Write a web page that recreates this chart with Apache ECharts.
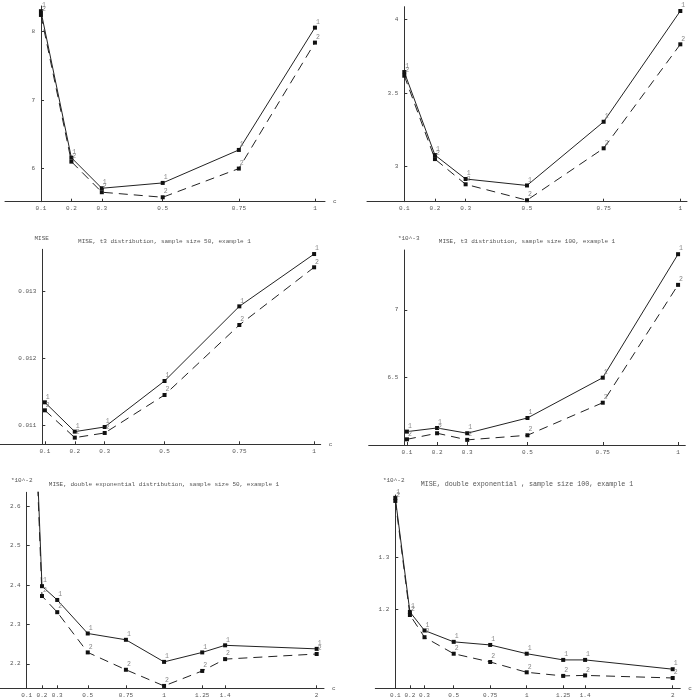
<!DOCTYPE html>
<html>
<head>
<meta charset="utf-8">
<script src="https://cdn.jsdelivr.net/npm/echarts@6/dist/echarts.min.js"></script>
<style>
  html, body { margin: 0; padding: 0; background: #fff; }
  #chart { width: 693px; height: 698px; }
</style>
</head>
<body>
<div id="chart"></div>
<script>
// c values
const cNormal = [0.1, 0.2, 0.3, 0.5, 0.75, 1]
const cDexp = [0.1, 0.2, 0.3, 0.5, 0.75, 1, 1.25, 1.4, 2]

// normal distribution
const normal50Est1 = [8.30, 6.155, 5.707, 5.785, 6.268, 8.059]
const normal50Est2 = [8.245, 6.097, 5.649, 5.575, 5.995, 7.84]
const normal100Est1 = [3.642, 3.079, 2.917, 2.873, 3.305, 4.056]
const normal100Est2 = [3.617, 3.052, 2.881, 2.773, 3.125, 3.830]

// t3 distribution (size 100 in units of 10^-3)
const t350Est1 = [0.01134, 0.01090, 0.01097, 0.01166, 0.01278, 0.013565]
const t350Est2 = [0.01122, 0.01081, 0.01088, 0.01145, 0.01250, 0.013366]
const t3100Est1 = [6.099, 6.126, 6.087, 6.200, 6.498, 7.412]
const t3100Est2 = [6.042, 6.087, 6.038, 6.072, 6.313, 7.185]

// double exponential (units of 10^-2)
const dexp50Est1 = [3.40, 2.397, 2.362, 2.277, 2.261, 2.205, 2.229, 2.247, 2.238]
const dexp50Est2 = [3.37, 2.372, 2.331, 2.229, 2.185, 2.144, 2.182, 2.212, 2.225]
const dexp100Est1 = [1.416, 1.195, 1.159, 1.137, 1.131, 1.114, 1.102, 1.102, 1.084]
const dexp100Est2 = [1.410, 1.189, 1.146, 1.114, 1.098, 1.078, 1.071, 1.072, 1.067]

// tick labels
const yTicksNormal50 = [6, 7, 8]
const yTicksNormal100 = [3, 3.5, 4]
const yTicksT350 = [0.011, 0.012, 0.013]
const yTicksT3100 = [6.5, 7]
const yTicksDexp50 = [2.2, 2.3, 2.4, 2.5, 2.6]
const yTicksDexp100 = [1.2, 1.3]

const FONT = '"Liberation Mono", "DejaVu Sans Mono", monospace'
const TXT = '#555'

// panel layout: grid box, axis ranges, where the y axis crosses
const panels = [
  { c: cNormal, s1: normal50Est1, s2: normal50Est2, xt: cNormal, yt: yTicksNormal50,
    grid: { left: 5, top: 6, width: 320, height: 195.7 }, xr: [-0.018, 1.033], yr: [5.51, 8.376], cross: 36,
    title: 'MISE, normal distribution, sample size 50, example 1', tx: 165, ty: -2.5, tfs: 6 },
  { c: cNormal, s1: normal100Est1, s2: normal100Est2, xt: cNormal, yt: yTicksNormal100,
    grid: { left: 367, top: 6.7, width: 320, height: 195 }, xr: [-0.0216, 1.0218], yr: [2.763, 4.085], cross: 37.3,
    title: 'MISE, normal distribution, sample size 100, example 1', tx: 529, ty: -2.5, tfs: 6 },
  { c: cNormal, s1: t350Est1, s2: t350Est2, xt: cNormal, yt: yTicksT350,
    grid: { left: 0, top: 249.3, width: 320.7, height: 195 }, xr: [-0.05, 1.022], yr: [0.01071, 0.013636], cross: 42.3,
    title: 'MISE, t3 distribution, sample size 50, example 1', tx: 164.5, ty: 241, tfs: 6,
    corner: 'MISE', cx: 41.7, cy: 238 },
  { c: cNormal, s1: t3100Est1, s2: t3100Est2, xt: cNormal, yt: yTicksT3100,
    grid: { left: 368.7, top: 250, width: 316.6, height: 195 }, xr: [-0.027, 1.024], yr: [6.0, 7.443], cross: 35.6,
    title: 'MISE, t3 distribution, sample size 100, example 1', tx: 527, ty: 241.7, tfs: 6,
    corner: '*10^-3', cx: 408.7, cy: 238.3 },
  { c: cDexp, s1: dexp50Est1, s2: dexp50Est2, xt: cDexp, yt: yTicksDexp50,
    grid: { left: 0, top: 492.3, width: 324, height: 196 }, xr: [-0.075, 2.048], yr: [2.138, 2.635], cross: 26.7,
    title: 'MISE, double exponential distribution, sample size 50, example 1', tx: 164, ty: 484.3, tfs: 6,
    corner: '*10^-2', cx: 21.7, cy: 480 },
  { c: cDexp, s1: dexp100Est1, s2: dexp100Est2, xt: cDexp, yt: yTicksDexp100,
    grid: { left: 375.3, top: 495, width: 305, height: 193.3 }, xr: [-0.037, 2.052], yr: [1.047, 1.4215], cross: 20,
    title: 'MISE, double exponential , sample size 100, example 1', tx: 527, ty: 484.7, tfs: 6.7,
    corner: '*10^-2', cx: 393.7, cy: 480 }
]

const grids = []
const xAxes = []
const yAxes = []
const series = []
const graphics = []

panels.forEach((p, i) => {
  grids.push(Object.assign({ outerBoundsMode: 'none', containLabel: false }, p.grid))
  xAxes.push({
    type: 'value', gridIndex: i, min: p.xr[0], max: p.xr[1],
    name: 'c', nameLocation: 'end', nameGap: 8,
    nameTextStyle: { fontFamily: FONT, fontSize: 6, color: TXT },
    axisLine: { onZero: false, lineStyle: { color: '#333', width: 1 } },
    axisTick: { inside: true, length: 3, customValues: p.xt, lineStyle: { color: '#333' } },
    axisLabel: { customValues: p.xt, formatter: v => String(v), fontFamily: FONT, fontSize: 6, color: TXT, margin: 4 },
    splitLine: { show: false }
  })
  yAxes.push({
    type: 'value', gridIndex: i, min: p.yr[0], max: p.yr[1], offset: -p.cross,
    axisLine: { show: true, onZero: false, lineStyle: { color: '#333', width: 1 } },
    axisTick: { show: true, inside: true, length: 3, customValues: p.yt, lineStyle: { color: '#333' } },
    axisLabel: { customValues: p.yt, formatter: v => String(v), fontFamily: FONT, fontSize: 6, color: TXT, margin: 6 },
    splitLine: { show: false }
  })
  const mk = (vals, tag, dashed) => ({
    type: 'line', xAxisIndex: i, yAxisIndex: i,
    data: p.c.map((c, k) => [c, vals[k]]),
    clip: true, animation: false,
    symbol: 'rect', symbolSize: 4,
    itemStyle: { color: '#111' },
    lineStyle: { color: '#222', width: 1, type: dashed ? [9, 6] : 'solid' },
    label: { show: true, formatter: tag, position: [3, -7], fontFamily: FONT, fontSize: 6.5, color: '#888' },
    emphasis: { disabled: true }
  })
  series.push(mk(p.s1, '1', false), mk(p.s2, '2', true))
  graphics.push({
    type: 'text', x: p.tx, y: p.ty,
    style: { text: p.title, font: p.tfs + 'px ' + FONT, fill: TXT, textAlign: 'center', textVerticalAlign: 'middle' }
  })
  if (p.corner) {
    graphics.push({
      type: 'text', x: p.cx, y: p.cy,
      style: { text: p.corner, font: '6px ' + FONT, fill: TXT, textAlign: 'center', textVerticalAlign: 'middle' }
    })
  }
})

const chart = echarts.init(document.getElementById('chart'))
chart.setOption({
  animation: false,
  backgroundColor: '#fff',
  grid: grids,
  xAxis: xAxes,
  yAxis: yAxes,
  series: series,
  graphic: graphics
})
window.addEventListener('resize', () => chart.resize())
</script>
</body>
</html>
